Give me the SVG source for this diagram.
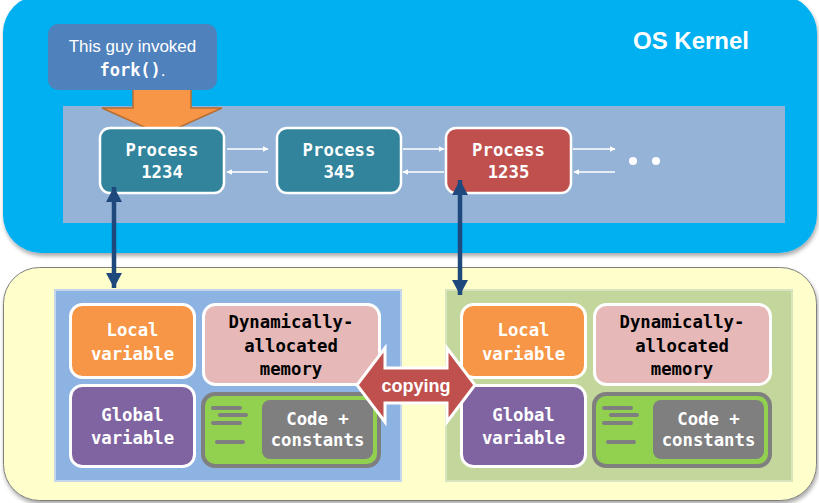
<svg xmlns="http://www.w3.org/2000/svg" width="819" height="503" viewBox="0 0 819 503">
<defs>
<style>
.mono{font-family:"DejaVu Sans Mono","Liberation Mono",monospace;font-weight:bold;font-size:17.3px;text-anchor:middle}
.w{fill:#ffffff}
.k{fill:#000000}
.sans{font-family:"Liberation Sans","Noto Sans",sans-serif}
.proc{stroke:#ffffff;stroke-width:2.5}
.mem{stroke:#ffffff;stroke-width:3}
.thin{stroke:#ffffff;stroke-width:1.3;fill:none}
.big{stroke:#1F497D;stroke-width:4.5;fill:none}
.cl{stroke:#7F7F7F;stroke-width:4;stroke-linecap:round}
</style>
<marker id="wa" viewBox="0 0 10 10" refX="9" refY="5" markerWidth="6" markerHeight="6" markerUnits="userSpaceOnUse" orient="auto">
<path d="M0,0 L10,5 L0,10 z" fill="#ffffff"/>
</marker>
<marker id="ba" viewBox="0 0 10 10" refX="10" refY="5" markerWidth="15" markerHeight="16" markerUnits="userSpaceOnUse" orient="auto-start-reverse" preserveAspectRatio="none">
<path d="M0,0 L10,5 L0,10 z" fill="#1F497D"/>
</marker>
<filter id="sh" x="-5%" y="-5%" width="110%" height="115%">
<feGaussianBlur in="SourceAlpha" stdDeviation="2"/>
<feOffset dx="1" dy="3" result="o"/>
<feComponentTransfer><feFuncA type="linear" slope="0.35"/></feComponentTransfer>
<feMerge><feMergeNode/><feMergeNode in="SourceGraphic"/></feMerge>
</filter>
</defs>

<g id="kernel">
<rect x="3" y="-5" width="814" height="258" rx="38" fill="#00B0F0" filter="url(#sh)"/>
<text x="633" y="49" class="sans" font-weight="bold" font-size="24" fill="#ffffff">OS Kernel</text>
<rect x="63" y="106" width="722" height="117" fill="#95B3D7"/>
</g>

<g id="memory-area">
<rect x="3.5" y="267.5" width="813" height="233" rx="36" fill="#FFFFCC" stroke="#7F7F7F" stroke-width="1" filter="url(#sh)"/>
</g>

<g id="fork-arrow">
<polygon points="133,89 191,89 191,108 222,108 162,135 102,108 133,108" fill="#F79646" stroke="#B66D31" stroke-width="1.5"/>
</g>

<g id="callout">
<rect x="48" y="24" width="169" height="66" rx="10" fill="#4F81BD"/>
<text x="132.5" y="52" class="sans" font-size="17" fill="#ffffff" text-anchor="middle">This guy invoked</text>
<text x="132.5" y="76" class="sans" font-size="17" fill="#ffffff" text-anchor="middle"><tspan font-family="DejaVu Sans Mono, Liberation Mono, monospace" font-weight="bold">fork()</tspan>.</text>
</g>

<g id="process-1234">
<rect x="100" y="128" width="124" height="65" rx="10" fill="#31849B" class="proc"/>
<text x="162" y="156" class="mono w">Process</text>
<text x="162" y="178" class="mono w">1234</text>
</g>
<g id="process-345">
<rect x="277" y="128" width="124" height="65" rx="10" fill="#31849B" class="proc"/>
<text x="339" y="156" class="mono w">Process</text>
<text x="339" y="178" class="mono w">345</text>
</g>
<g id="process-1235">
<rect x="446" y="128" width="125" height="65" rx="10" fill="#C0504D" class="proc"/>
<text x="508.5" y="156" class="mono w">Process</text>
<text x="508.5" y="178" class="mono w">1235</text>
</g>
<g id="more">
<circle cx="633" cy="161" r="4" fill="#ffffff"/>
<circle cx="656" cy="161" r="4" fill="#ffffff"/>
</g>

<g id="left-panel">
<rect x="55" y="290" width="346" height="191" fill="#8DB3E2" stroke="#C5D6EC" stroke-width="2"/>
</g>
<g id="right-panel">
<rect x="446" y="290" width="346" height="191" fill="#C3D69B" stroke="#D7E4BD" stroke-width="2"/>
</g>

<g id="left-local">
<rect x="70.5" y="304.5" width="124" height="73" rx="12" fill="#F79646" class="mem"/>
<text x="132.5" y="336" class="mono w">Local</text>
<text x="132.5" y="360" class="mono w">variable</text>
</g>
<g id="left-dynamic">
<rect x="203.5" y="304.5" width="176" height="80" rx="12" fill="#E6B9B8" class="mem"/>
<text x="291" y="328" class="mono k">Dynamically-</text>
<text x="291" y="352" class="mono k">allocated</text>
<text x="291" y="375" class="mono k">memory</text>
</g>
<g id="left-global">
<rect x="70.5" y="385.5" width="124" height="81" rx="12" fill="#8064A2" class="mem"/>
<text x="132.5" y="421" class="mono w">Global</text>
<text x="132.5" y="444" class="mono w">variable</text>
</g>
<g id="left-code">
<rect x="203" y="394" width="176" height="72" rx="12" fill="#92D050" stroke="#7F7F7F" stroke-width="4"/>
<line x1="213" y1="408" x2="240" y2="408" class="cl"/>
<line x1="220" y1="415" x2="246" y2="415" class="cl"/>
<line x1="213" y1="423" x2="240" y2="423" class="cl"/>
<line x1="217" y1="442" x2="243" y2="442" class="cl"/>
<rect x="262" y="400" width="111" height="59" rx="8" fill="#7F7F7F"/>
<text x="317.5" y="425" class="mono w" font-size="15.5">Code +</text>
<text x="317.5" y="446" class="mono w" font-size="15.5">constants</text>
</g>

<g id="right-local">
<rect x="461.5" y="304.5" width="124" height="73" rx="12" fill="#F79646" class="mem"/>
<text x="523.5" y="336" class="mono w">Local</text>
<text x="523.5" y="360" class="mono w">variable</text>
</g>
<g id="right-dynamic">
<rect x="594.5" y="304.5" width="176" height="80" rx="12" fill="#E6B9B8" class="mem"/>
<text x="682" y="328" class="mono k">Dynamically-</text>
<text x="682" y="352" class="mono k">allocated</text>
<text x="682" y="375" class="mono k">memory</text>
</g>
<g id="right-global">
<rect x="461.5" y="385.5" width="124" height="81" rx="12" fill="#8064A2" class="mem"/>
<text x="523.5" y="421" class="mono w">Global</text>
<text x="523.5" y="444" class="mono w">variable</text>
</g>
<g id="right-code">
<rect x="594" y="394" width="176" height="72" rx="12" fill="#92D050" stroke="#7F7F7F" stroke-width="4"/>
<line x1="604" y1="408" x2="631" y2="408" class="cl"/>
<line x1="611" y1="415" x2="637" y2="415" class="cl"/>
<line x1="604" y1="423" x2="631" y2="423" class="cl"/>
<line x1="608" y1="442" x2="634" y2="442" class="cl"/>
<rect x="653" y="400" width="111" height="59" rx="8" fill="#7F7F7F"/>
<text x="708.5" y="425" class="mono w" font-size="15.5">Code +</text>
<text x="708.5" y="446" class="mono w" font-size="15.5">constants</text>
</g>

<g id="connectors">
<line x1="227" y1="149" x2="268" y2="149" class="thin" marker-end="url(#wa)"/>
<line x1="268" y1="172" x2="227" y2="172" class="thin" marker-end="url(#wa)"/>
<line x1="403" y1="149" x2="444" y2="149" class="thin" marker-end="url(#wa)"/>
<line x1="444" y1="172" x2="403" y2="172" class="thin" marker-end="url(#wa)"/>
<line x1="573" y1="149" x2="615" y2="149" class="thin" marker-end="url(#wa)"/>
<line x1="615" y1="172" x2="574" y2="172" class="thin" marker-end="url(#wa)"/>
<line x1="114" y1="187" x2="114" y2="288" class="big" marker-start="url(#ba)" marker-end="url(#ba)"/>
<line x1="460" y1="180" x2="460" y2="295" class="big" marker-start="url(#ba)" marker-end="url(#ba)"/>
</g>

<g id="copying">
<polygon points="357,385 385,348 385,368 447,368 447,348 475,385 447,422 447,403 385,403 385,422" fill="#C0504D" stroke="#ffffff" stroke-width="3" stroke-linejoin="miter"/>
<text x="416" y="392" class="sans" font-weight="bold" font-size="18" fill="#ffffff" text-anchor="middle">copying</text>
</g>
</svg>
